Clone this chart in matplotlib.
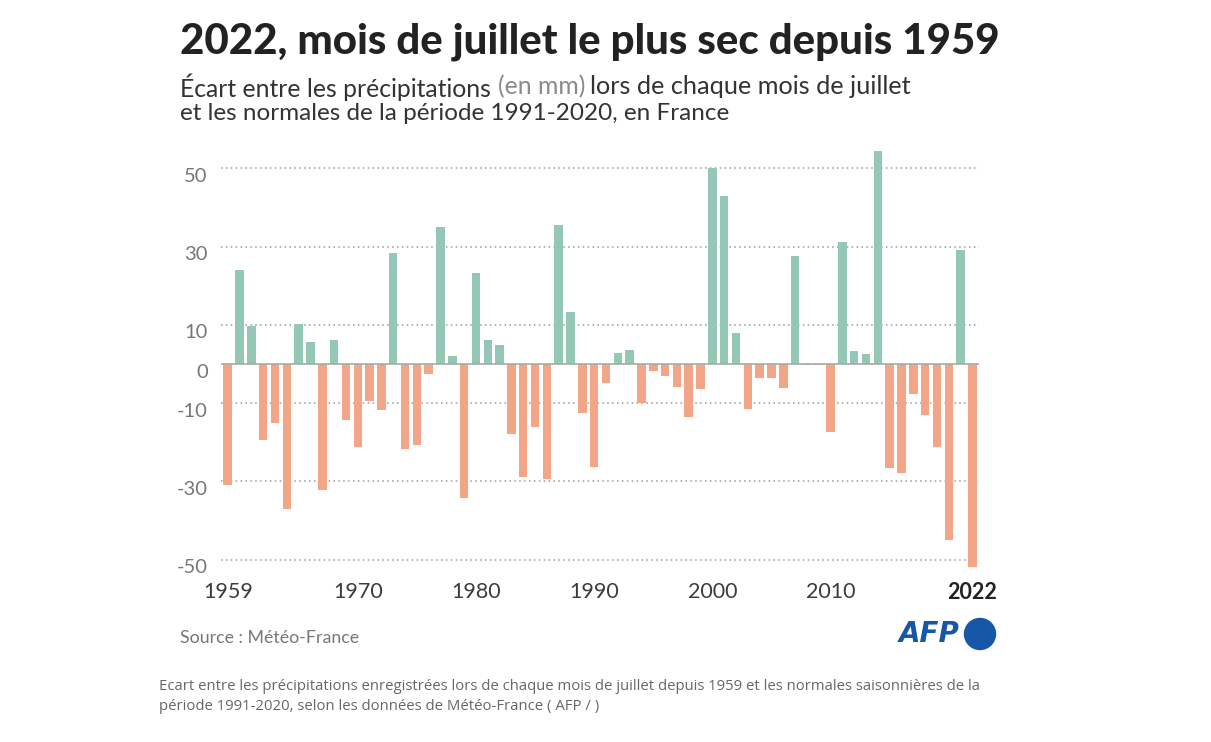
import matplotlib
matplotlib.use("Agg")
import matplotlib.pyplot as plt
from matplotlib.patches import Circle
from matplotlib.transforms import ScaledTranslation

years = list(range(1959, 2023))
anomalies = [-30.9, 24.0, 9.8, -19.4, -15.1, -37.0, 10.2, 5.6, -32.3, 6.1,
             -14.4, -21.3, -9.4, -11.7, 28.3, -21.7, -20.6, -2.6, 35.0, 2.0,
             -34.1, 23.2, 6.1, 4.8, -17.9, -28.9, -16.0, -29.4, 35.6, 13.3,
             -12.5, -26.3, -4.9, 2.9, 3.5, -9.9, -1.9, -3.1, -6.0, -13.5,
             -6.3, 50.0, 43.0, 7.9, -11.4, -3.7, -3.7, -6.1, 27.7, -0.2,
             -0.2, -17.4, 31.2, 3.4, 2.5, 54.5, -26.6, -27.8, -7.6, -13.1,
             -21.3, -44.9, 29.0, -51.9]
y_ticks = [50, 30, 10, 0, -10, -30, -50]
x_ticks = [1959, 1970, 1980, 1990, 2000, 2010, 2022]
title = "2022, mois de juillet le plus sec depuis 1959"
sub_a = "Écart entre les précipitations"
sub_b = "(en mm)"
sub_c = "lors de chaque mois de juillet"
sub_2 = "et les normales de la période 1991-2020, en France"
source = "Source : Météo-France"
caption_1 = "Ecart entre les précipitations enregistrées lors de chaque mois de juillet depuis 1959 et les normales saisonnières de la"
caption_2 = "période 1991-2020, selon les données de Météo-France ( AFP / )"

GREEN, ORANGE = "#95C7B5", "#F2A687"
W, H = 1211, 742
plt.rcParams["font.family"] = ["Lato", "DejaVu Sans"]
fig = plt.figure(figsize=(W / 100, H / 100), dpi=100, facecolor="white")

def fx(x): return x / W
def fy(y): return 1 - y / H

L, R, T, B = 221, 979, 140, 575
ax = fig.add_axes([fx(L), fy(B), (R - L) / W, (B - T) / H])
ax.set_xlim(1958.43, 1958.43 + (R - L) / 11.82)
ax.set_ylim((364 - B) / 3.915, (364 - T) / 3.915)
for s in ax.spines.values():
    s.set_visible(False)
ax.patch.set_alpha(0)
ax.set_axisbelow(True)
ax.bar(years, anomalies, width=0.72,
       color=[GREEN if v > 0 else ORANGE for v in anomalies], zorder=3)
for v in y_ticks:
    if v != 0:
        ax.axhline(v, color="#9a9a9a", lw=1.1, ls=(0, (1, 2.2)), zorder=1)
ax.axhline(0, color="#a8aaa6", lw=1.2, zorder=4)

ax.set_yticks(y_ticks)
ax.set_yticklabels([str(v) for v in y_ticks], fontsize=14.5, color="#777777")
ax.tick_params(axis="y", length=0, pad=9.5)
shift_y = ScaledTranslation(0, -6.5 / 100, fig.dpi_scale_trans)
for lb in ax.get_yticklabels():
    lb.set_transform(lb.get_transform() + shift_y)

ax.set_xticks(x_ticks)
ax.set_xticklabels([str(v) for v in x_ticks], fontsize=15.5, color="#3c3c3c")
ax.tick_params(axis="x", length=0, pad=5)
ax.get_xticklabels()[-1].set_fontweight("bold")
ax.get_xticklabels()[-1].set_color("#222222")

fig.text(fx(180), fy(41.5), title, fontsize=30.25, fontweight="black",
         color="#222222", va="center", ha="left")

fig.text(fx(180), fy(87), sub_a, fontsize=17.8, color="#333333", va="center", ha="left")
fig.text(fx(498), fy(87), sub_b, fontsize=17.8, color="#8a8a8a", va="center", ha="left")
fig.text(fx(590), fy(87), sub_c, fontsize=18.2, color="#333333", va="center", ha="left")
fig.text(fx(180), fy(114), sub_2, fontsize=17.5, color="#333333", va="center", ha="left")

fig.text(fx(180), fy(638), source, fontsize=12.8, color="#777777", va="center", ha="left")
fig.text(fx(159), fy(686), caption_1, fontsize=10.68, color="#666666", va="center", ha="left", family="Open Sans")
fig.text(fx(159), fy(706), caption_2, fontsize=10.68, color="#666666", va="center", ha="left", family="Open Sans")

fig.text(fx(899), fy(634), "AFP", fontsize=20, fontweight="bold", style="italic",
         color="#1657A8", va="center", ha="left", family="DejaVu Sans")
fig.add_artist(Circle((980, H - 634), 15.5, transform=None, color="#1657A8"))

fig.savefig("out.png", dpi=100)
